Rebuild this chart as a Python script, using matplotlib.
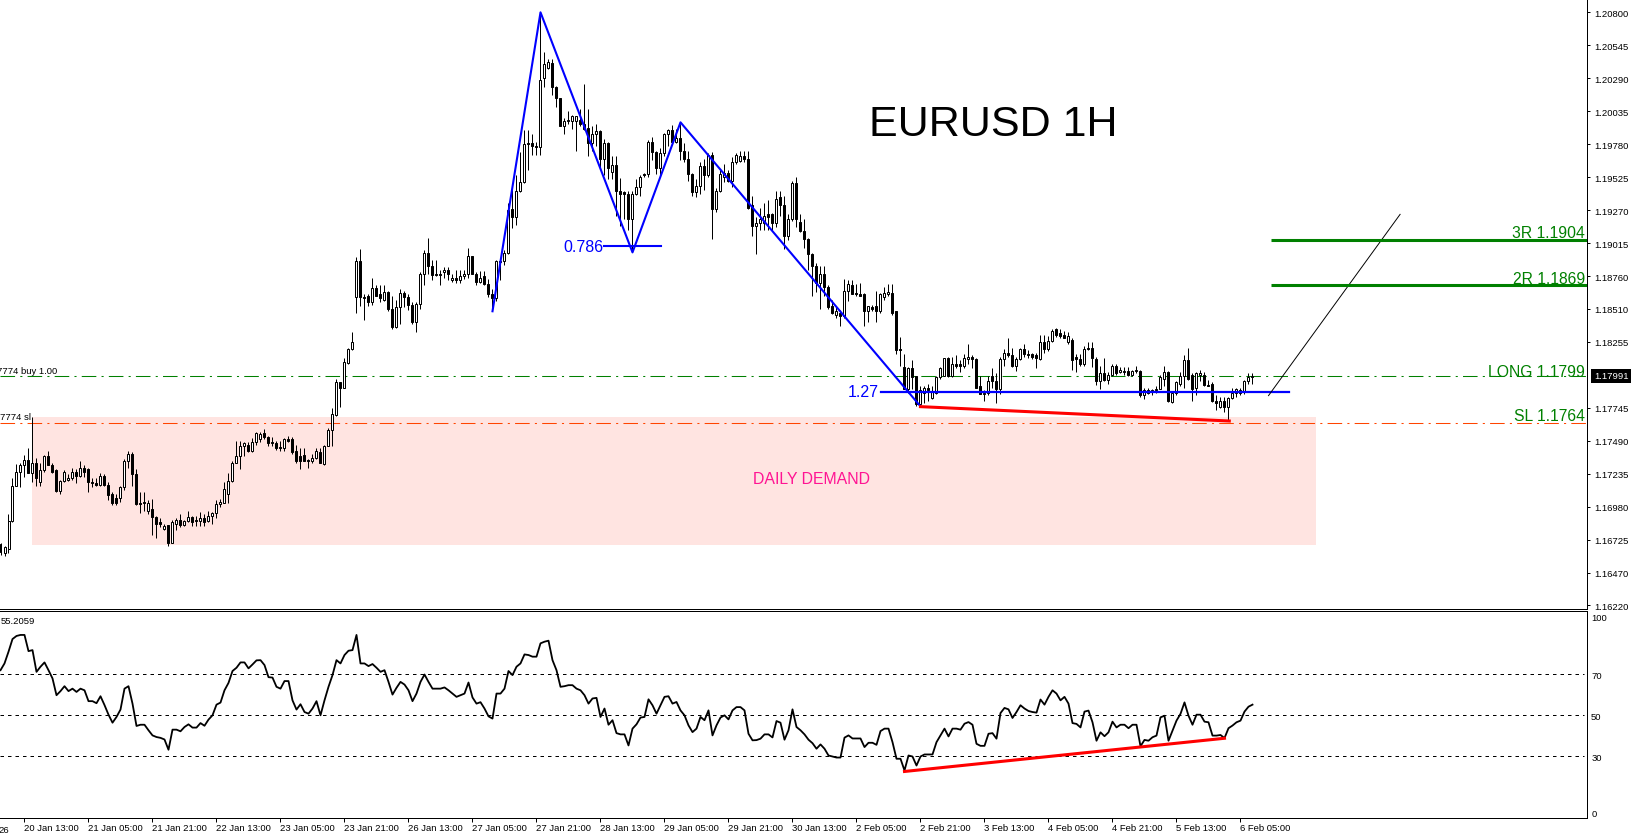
import numpy as np
import matplotlib
matplotlib.use('Agg')
import matplotlib.pyplot as plt
from matplotlib.patches import Rectangle

# Hourly candles, bar 0 is 20 Jan 13:00, first bars on screen start at -6
opens = [1.1669,1.1662,1.1665,1.1687,1.1714,1.1725,
    1.1730,1.1734,1.1724,1.1732,1.1717,1.1726,1.1737,1.1730,1.1726,1.1710,1.1718,1.1719,1.1720,1.1725,1.1722,1.1728,
    1.1727,1.1717,1.1716,1.1715,1.1722,1.1715,1.1708,1.1705,1.1705,1.1713,1.1733,1.1739,1.1723,1.1701,1.1702,1.1695,
    1.1696,1.1690,1.1686,1.1681,1.1684,1.1670,1.1685,1.1688,1.1684,1.1687,1.1690,1.1688,1.1687,1.1689,1.1687,1.1691,
    1.1693,1.1700,1.1701,1.1708,1.1718,1.1732,1.1737,1.1745,1.1746,1.1741,1.1748,1.1750,1.1755,1.1752,1.1748,1.1747,
    1.1744,1.1743,1.1750,1.1750,1.1741,1.1737,1.1738,1.1734,1.1733,1.1736,1.1740,1.1731,1.1745,1.1757,1.1769,1.1794,
    1.1790,1.1809,1.1820,1.1860,1.1888,1.1860,1.1861,1.1856,1.1867,1.1862,1.1858,1.1864,1.1851,1.1837,1.1852,1.1863,
    1.1860,1.1854,1.1841,1.1855,1.1878,1.1894,1.1884,1.1878,1.1878,1.1879,1.1881,1.1873,1.1875,1.1873,1.1876,1.1878,
    1.1892,1.1878,1.1872,1.1876,1.1870,1.1862,1.1859,1.1888,1.1888,1.1894,1.1928,1.1922,1.1942,1.1949,1.1979,1.1979,
    1.1977,1.1976,1.2029,1.2037,1.2041,1.2022,1.2014,1.1992,1.1996,1.1996,1.1996,1.1997,1.1994,1.1991,1.1979,1.1986,
    1.1988,1.1967,1.1979,1.1957,1.1962,1.1942,1.1941,1.1940,1.1920,1.1940,1.1945,1.1955,1.1955,1.1980,1.1972,1.1960,
    1.1971,1.1986,1.1989,1.1980,1.1983,1.1973,1.1967,1.1955,1.1941,1.1946,1.1961,1.1954,1.1970,1.1928,1.1942,1.1953,
    1.1956,1.1950,1.1964,1.1965,1.1969,1.1967,1.1931,1.1915,1.1917,1.1917,1.1924,1.1924,1.1917,1.1937,1.1931,1.1907,
    1.1920,1.1948,1.1918,1.1911,1.1905,1.1893,1.1884,1.1871,1.1878,1.1868,1.1853,1.1846,1.1848,1.1845,1.1865,1.1869,
    1.1863,1.1862,1.1862,1.1849,1.1852,1.1853,1.1849,1.1860,1.1862,1.1863,1.1849,1.1820,1.1806,1.1789,1.1805,1.1799,
    1.1777,1.1786,1.1790,1.1782,1.1786,1.1798,1.1799,1.1813,1.1799,1.1808,1.1808,1.1807,1.1812,1.1814,1.1812,1.1791,
    1.1785,1.1786,1.1799,1.1795,1.1789,1.1812,1.1817,1.1815,1.1807,1.1812,1.1820,1.1816,1.1816,1.1815,1.1812,1.1825,
    1.1820,1.1826,1.1835,1.1832,1.1831,1.1825,1.1827,1.1814,1.1812,1.1808,1.1821,1.1821,1.1812,1.1795,1.1801,1.1796,
    1.1800,1.1807,1.1802,1.1802,1.1803,1.1800,1.1803,1.1803,1.1784,1.1788,1.1787,1.1788,1.1789,1.1797,1.1802,1.1779,
    1.1786,1.1793,1.1799,1.1811,1.1800,1.1790,1.1800,1.1800,1.1792,1.1793,1.1780,1.1775,1.1780,1.1775,1.1782,1.1786,1.1786,1.1787,1.1795,1.1798]

highs = [1.1670,1.1668,1.1692,1.1720,1.1731,1.1732,
    1.1738,1.1743,1.1767,1.1736,1.1732,1.1738,1.1741,1.1732,1.1727,1.1719,1.1726,1.1723,1.1728,1.1727,1.1733,1.1730,
    1.1728,1.1720,1.1720,1.1724,1.1723,1.1717,1.1709,1.1708,1.1714,1.1735,1.1741,1.1740,1.1727,1.1709,1.1709,1.1703,
    1.1704,1.1691,1.1689,1.1685,1.1684,1.1688,1.1689,1.1692,1.1688,1.1695,1.1691,1.1691,1.1694,1.1692,1.1695,1.1694,
    1.1703,1.1704,1.1717,1.1724,1.1733,1.1749,1.1749,1.1748,1.1748,1.1751,1.1756,1.1756,1.1758,1.1753,1.1752,1.1749,
    1.1749,1.1751,1.1753,1.1752,1.1746,1.1743,1.1743,1.1735,1.1739,1.1743,1.1743,1.1746,1.1759,1.1774,1.1797,1.1794,
    1.1813,1.1821,1.1833,1.1891,1.1897,1.1862,1.1862,1.1875,1.1869,1.1869,1.1869,1.1865,1.1861,1.1858,1.1866,1.1865,
    1.1862,1.1856,1.1856,1.1879,1.1896,1.1906,1.1889,1.1889,1.1881,1.1883,1.1883,1.1878,1.1881,1.1881,1.1881,1.1898,
    1.1892,1.1879,1.1880,1.1880,1.1874,1.1866,1.1889,1.1889,1.1896,1.1933,1.1943,1.1954,1.1972,1.1989,1.1989,1.1986,
    1.1980,1.2080,1.2049,1.2044,1.2044,1.2023,1.2014,1.1998,1.2004,1.2001,1.2000,1.2005,1.2025,1.2005,1.1992,1.1994,
    1.1989,1.1982,1.1980,1.1969,1.1969,1.1952,1.1942,1.1942,1.1942,1.1951,1.1954,1.1956,1.1981,1.1984,1.1973,1.1975,
    1.1987,1.1990,1.1993,1.1990,1.1994,1.1979,1.1973,1.1956,1.1951,1.1964,1.1967,1.1971,1.1972,1.1944,1.1958,1.1963,
    1.1958,1.1968,1.1971,1.1973,1.1973,1.1973,1.1938,1.1922,1.1929,1.1933,1.1935,1.1925,1.1942,1.1942,1.1938,1.1924,
    1.1950,1.1953,1.1924,1.1920,1.1906,1.1894,1.1886,1.1884,1.1884,1.1869,1.1858,1.1852,1.1850,1.1874,1.1873,1.1873,
    1.1870,1.1871,1.1863,1.1853,1.1854,1.1865,1.1863,1.1868,1.1870,1.1870,1.1849,1.1829,1.1816,1.1806,1.1811,1.1799,
    1.1791,1.1791,1.1793,1.1791,1.1799,1.1806,1.1813,1.1814,1.1814,1.1815,1.1811,1.1816,1.1824,1.1815,1.1813,1.1799,
    1.1788,1.1799,1.1805,1.1801,1.1814,1.1820,1.1828,1.1821,1.1814,1.1821,1.1824,1.1819,1.1817,1.1817,1.1831,1.1831,
    1.1830,1.1835,1.1836,1.1835,1.1834,1.1833,1.1828,1.1816,1.1816,1.1822,1.1825,1.1825,1.1814,1.1807,1.1813,1.1802,
    1.1808,1.1808,1.1806,1.1806,1.1806,1.1804,1.1807,1.1804,1.1790,1.1790,1.1789,1.1791,1.1800,1.1807,1.1803,1.1787,
    1.1795,1.1802,1.1815,1.1821,1.1801,1.1802,1.1804,1.1802,1.1796,1.1794,1.1784,1.1783,1.1783,1.1783,1.1790,1.1790,1.1790,1.1796,1.1801,1.1801]

lows = [1.1661,1.1660,1.1662,1.1686,1.1714,1.1713,
    1.1721,1.1724,1.1717,1.1714,1.1714,1.1725,1.1730,1.1724,1.1709,1.1708,1.1717,1.1718,1.1719,1.1716,1.1721,1.1721,
    1.1709,1.1713,1.1714,1.1714,1.1714,1.1703,1.1699,1.1699,1.1702,1.1711,1.1728,1.1714,1.1699,1.1693,1.1695,1.1692,
    1.1676,1.1674,1.1682,1.1680,1.1668,1.1670,1.1680,1.1682,1.1683,1.1686,1.1683,1.1683,1.1683,1.1683,1.1686,1.1685,
    1.1689,1.1698,1.1701,1.1701,1.1717,1.1732,1.1727,1.1737,1.1740,1.1740,1.1746,1.1748,1.1750,1.1745,1.1745,1.1742,
    1.1741,1.1741,1.1748,1.1739,1.1732,1.1727,1.1733,1.1728,1.1732,1.1735,1.1732,1.1730,1.1745,1.1745,1.1768,1.1775,
    1.1790,1.1808,1.1819,1.1848,1.1853,1.1842,1.1853,1.1854,1.1861,1.1856,1.1857,1.1849,1.1835,1.1836,1.1839,1.1852,
    1.1850,1.1839,1.1833,1.1851,1.1869,1.1878,1.1873,1.1876,1.1869,1.1875,1.1873,1.1872,1.1871,1.1871,1.1874,1.1875,
    1.1878,1.1869,1.1871,1.1869,1.1860,1.1849,1.1857,1.1873,1.1885,1.1893,1.1913,1.1916,1.1941,1.1948,1.1958,1.1970,
    1.1970,1.1970,1.2022,1.2036,1.2016,1.2007,1.1992,1.1986,1.1994,1.1990,1.1973,1.1992,1.1989,1.1969,1.1973,1.1977,
    1.1960,1.1954,1.1951,1.1951,1.1923,1.1915,1.1920,1.1912,1.1895,1.1939,1.1938,1.1953,1.1953,1.1966,1.1955,1.1954,
    1.1969,1.1977,1.1979,1.1979,1.1966,1.1964,1.1950,1.1938,1.1937,1.1940,1.1943,1.1953,1.1905,1.1926,1.1941,1.1949,
    1.1949,1.1945,1.1963,1.1964,1.1964,1.1928,1.1907,1.1893,1.1912,1.1912,1.1912,1.1912,1.1914,1.1923,1.1897,1.1904,
    1.1919,1.1914,1.1910,1.1898,1.1881,1.1861,1.1864,1.1851,1.1861,1.1851,1.1847,1.1844,1.1838,1.1844,1.1857,1.1862,
    1.1861,1.1861,1.1838,1.1841,1.1849,1.1841,1.1848,1.1858,1.1861,1.1846,1.1816,1.1807,1.1789,1.1786,1.1789,1.1776,
    1.1775,1.1778,1.1780,1.1781,1.1785,1.1797,1.1799,1.1798,1.1798,1.1805,1.1802,1.1805,1.1808,1.1805,1.1790,1.1785,
    1.1780,1.1784,1.1790,1.1778,1.1785,1.1807,1.1814,1.1806,1.1803,1.1811,1.1814,1.1813,1.1812,1.1805,1.1811,1.1817,
    1.1818,1.1825,1.1829,1.1828,1.1828,1.1824,1.1804,1.1802,1.1807,1.1807,1.1819,1.1806,1.1792,1.1789,1.1795,1.1793,
    1.1799,1.1800,1.1801,1.1800,1.1799,1.1799,1.1801,1.1783,1.1781,1.1785,1.1784,1.1786,1.1789,1.1791,1.1779,1.1778,
    1.1784,1.1791,1.1790,1.1796,1.1780,1.1784,1.1795,1.1791,1.1791,1.1779,1.1773,1.1774,1.1771,1.1764,1.1781,1.1783,1.1784,1.1785,1.1793,1.1793]

closes = [1.1663,1.1667,1.1687,1.1714,1.1725,1.1730,
    1.1734,1.1724,1.1732,1.1720,1.1726,1.1737,1.1730,1.1725,1.1710,1.1718,1.1725,1.1720,1.1725,1.1722,1.1728,1.1725,
    1.1717,1.1716,1.1715,1.1722,1.1715,1.1707,1.1701,1.1701,1.1713,1.1733,1.1739,1.1723,1.1700,1.1700,1.1701,1.1701,
    1.1690,1.1685,1.1685,1.1683,1.1670,1.1686,1.1688,1.1684,1.1687,1.1690,1.1686,1.1687,1.1689,1.1686,1.1691,1.1693,
    1.1700,1.1702,1.1712,1.1718,1.1732,1.1737,1.1745,1.1747,1.1741,1.1748,1.1755,1.1754,1.1752,1.1747,1.1747,1.1743,
    1.1743,1.1750,1.1749,1.1740,1.1733,1.1733,1.1733,1.1733,1.1736,1.1741,1.1732,1.1745,1.1757,1.1770,1.1794,1.1790,
    1.1810,1.1820,1.1825,1.1888,1.1860,1.1859,1.1856,1.1867,1.1861,1.1859,1.1864,1.1851,1.1837,1.1852,1.1863,1.1860,
    1.1854,1.1841,1.1855,1.1878,1.1894,1.1884,1.1877,1.1877,1.1877,1.1881,1.1878,1.1875,1.1873,1.1876,1.1878,1.1892,
    1.1878,1.1872,1.1875,1.1870,1.1862,1.1859,1.1888,1.1887,1.1894,1.1927,1.1922,1.1942,1.1949,1.1978,1.1978,1.1977,
    1.1976,1.2028,1.2040,1.2042,1.2022,1.2014,1.1992,1.1996,1.1997,1.2000,1.2000,1.1994,1.1990,1.1979,1.1986,1.1988,
    1.1967,1.1979,1.1960,1.1962,1.1942,1.1940,1.1940,1.1920,1.1940,1.1945,1.1953,1.1954,1.1980,1.1972,1.1960,1.1971,
    1.1986,1.1989,1.1980,1.1983,1.1973,1.1967,1.1955,1.1941,1.1946,1.1961,1.1954,1.1970,1.1928,1.1942,1.1955,1.1956,
    1.1950,1.1964,1.1970,1.1969,1.1967,1.1929,1.1915,1.1917,1.1920,1.1923,1.1922,1.1917,1.1936,1.1931,1.1907,1.1920,
    1.1948,1.1920,1.1911,1.1905,1.1893,1.1884,1.1871,1.1878,1.1868,1.1852,1.1848,1.1849,1.1845,1.1865,1.1870,1.1862,
    1.1862,1.1861,1.1849,1.1853,1.1851,1.1849,1.1862,1.1863,1.1864,1.1848,1.1819,1.1819,1.1789,1.1805,1.1798,1.1777,
    1.1788,1.1790,1.1788,1.1787,1.1798,1.1805,1.1813,1.1799,1.1808,1.1807,1.1807,1.1813,1.1814,1.1812,1.1790,1.1785,
    1.1786,1.1795,1.1795,1.1789,1.1812,1.1817,1.1815,1.1807,1.1812,1.1820,1.1816,1.1815,1.1814,1.1813,1.1825,1.1820,
    1.1826,1.1834,1.1831,1.1830,1.1828,1.1830,1.1811,1.1812,1.1808,1.1820,1.1820,1.1813,1.1795,1.1801,1.1796,1.1800,
    1.1807,1.1801,1.1804,1.1803,1.1800,1.1803,1.1804,1.1784,1.1788,1.1786,1.1788,1.1789,1.1798,1.1802,1.1780,1.1786,
    1.1794,1.1799,1.1811,1.1797,1.1789,1.1801,1.1801,1.1792,1.1791,1.1780,1.1778,1.1780,1.1775,1.1782,1.1786,1.1789,1.1788,1.1795,1.1798,1.1799]

# RSI, same bars as the candles
rsi = [72,75.3,81,87.2,88.7,89.2,
    89.2,81.3,81.8,71.2,73.7,75.8,72,68,59.8,61.8,64.2,61.8,63,61.4,63,62.2,
    56.9,56.9,55.9,59.3,55,50.3,46.4,49.2,52.8,63,64.2,55.7,44.8,45.4,45.4,42.7,
    40.2,39.4,39,38.2,33.2,43,43,42.2,44.3,45.6,44,44,46.2,44.9,47.9,50,
    55.2,56.2,62.2,65.8,71.6,73.2,75.8,75.8,72.9,74.8,76.8,76.9,74.5,68.6,68.4,63.9,
    63,66.7,66.7,57.3,52.8,55.4,51.6,50.8,53.3,56.9,50,57.3,63.9,69.6,76.9,75.3,
    79.4,81.5,81.8,89.2,75.3,75.3,74,75,73.2,71.2,72,66.3,60.1,63.4,66.3,65,
    62.2,56.9,60.6,66.3,69.9,66.3,63,63,63,63.6,62.2,60.6,59,59.8,60.6,66,
    58.7,55.7,56.4,53.3,49.5,48.4,60.6,60.6,63,71.6,69.6,73.7,75.3,79.7,79.4,78.6,
    78.6,85.1,85.9,86.4,76.9,72,63.9,64.2,64.7,64.7,63,62.2,59.8,55.7,58.2,58.5,
    49.2,53.3,45.4,47.6,41.3,40.7,40.7,35.3,43.5,45.6,48.9,49.2,57.8,54.9,50.8,54.9,
    59,59.3,55.7,56.5,52.4,50,45.1,41.8,43.5,49.2,47.6,52.4,40.2,45.1,48.9,50,
    48,52.4,54,54,52.4,41,37.8,37.9,38.6,40.7,40.7,39.2,47.2,46.4,38.1,42.7,
    52.9,44.3,42.7,40.7,38.1,36.4,33.7,35.8,33.7,30.4,29.9,29.4,29.4,39.1,40.2,38.7,
    38.7,38.7,34.5,36.6,36.6,35.6,42.3,43.5,43.5,36.9,28.8,28.8,23.1,30.4,29.9,25.5,
    29.9,30.9,30.9,30.9,36.9,40.2,43.5,39.7,43.5,43.5,43,45.9,46.7,45.4,36.1,35.1,
    35.1,41,41.3,38.6,51.1,53.6,52.9,48.7,51.6,54.9,53.3,52.1,51.6,51.3,57.7,55.2,
    59,62.2,60.6,57.3,59,55.7,46.2,45.8,44.1,51.8,52.3,46.6,37.6,41.7,39.8,41.7,
    46.9,44.1,45.4,45.4,43.7,45.4,45.4,34.9,38,37.6,39.3,40.1,49,49.8,37.6,42.5,
    47.4,50.7,56.3,49.8,45.4,50.3,50.3,46.9,46.6,40.1,40.1,40.4,38.9,43.7,45,46.6,47.4,51.8,54.2,55.2]

time_bars = [0, 16, 32, 48, 64, 80, 96, 112, 128, 144, 160, 176, 192, 208, 224, 240, 256, 272, 288, 304]
time_labels = ['20 Jan 13:00', '21 Jan 05:00', '21 Jan 21:00', '22 Jan 13:00', '23 Jan 05:00',
               '23 Jan 21:00', '26 Jan 13:00', '27 Jan 05:00', '27 Jan 21:00', '28 Jan 13:00',
               '29 Jan 05:00', '29 Jan 21:00', '30 Jan 13:00', '2 Feb 05:00', '2 Feb 21:00',
               '3 Feb 13:00', '4 Feb 05:00', '4 Feb 21:00', '5 Feb 13:00', '6 Feb 05:00']
price_ticks = [1.20800, 1.20545, 1.20290, 1.20035, 1.19780, 1.19525, 1.19270, 1.19015, 1.18760,
               1.18510, 1.18255, 1.17745, 1.17490, 1.17235, 1.16980, 1.16725, 1.16470, 1.16220]
rsi_ticks = [100, 70, 50, 30, 0]
rsi_levels = [70, 50, 30]

# drawn objects on the chart
pattern_bars = [117, 129, 152, 164, 224]
pattern_prices = [1.1849, 1.2080, 1.18945, 1.1995, 1.17755]
fib_786_bars = [144.9, 159.2]
fib_786_price = 1.18994
fib_127_bars = [214.1, 316.2]
fib_127_price = 1.17868
div_bars = [224, 301.2]
div_prices = [1.17753, 1.17642]
rsi_div_bars = [220, 300]
rsi_div_values = [22.6, 38.8]
forecast_bars = [311, 343.9]
forecast_prices = [1.17838, 1.19239]
zone_bars = [2, 322.9]
zone_prices = [1.16686, 1.1767]
target_start = 311.7
target_3r = 1.1904
target_2r = 1.1869
long_price = 1.1799
sl_price = 1.1763
last_price = 1.17991

GREEN = '#008000'
BLUE = '#0000ff'
RED = '#ff0000'
W, H = 1633, 837
X0, X1 = -6.125, 390.625

plt.rcParams['font.family'] = ['Liberation Sans', 'DejaVu Sans']

fig = plt.figure(figsize=(W / 100, H / 100), dpi=100, facecolor='white')
ax = fig.add_axes([0, 1 - 610.3 / H, 1587 / W, 610.3 / H])
ax2 = fig.add_axes([0, 1 - 819.3 / H, 1587 / W, 207 / H])

bars = np.arange(-6, -6 + len(opens))
o, h, l, c = map(np.array, (opens, highs, lows, closes))

ax.set_xlim(X0, X1)
ax.set_ylim(1.16187, 1.20903)

# demand zone under the candles
ax.add_patch(Rectangle((zone_bars[0], zone_prices[0]), zone_bars[1] - zone_bars[0],
                       zone_prices[1] - zone_prices[0], facecolor='#ffe4e1', edgecolor='none', zorder=1))

# order lines
ax.axhline(long_price, color=GREEN, lw=0.75, dashes=(14, 5, 2, 5), zorder=2)
ax.axhline(sl_price, color='#ff4500', lw=0.75, dashes=(14, 5, 2, 5), zorder=2)

# candles
ax.vlines(bars, l, h, color='black', lw=0.72, zorder=3)
up = c >= o
ax.bar(bars[up], (c - o)[up], bottom=o[up], width=0.5, facecolor='white', edgecolor='black', lw=0.72, zorder=4)
ax.bar(bars[~up], (o - c)[~up], bottom=c[~up], width=0.5, facecolor='black', edgecolor='black', lw=0.72, zorder=4)

# pattern and levels
ax.plot(pattern_bars, pattern_prices, color=BLUE, lw=1.5, zorder=5)
ax.plot(fib_786_bars, [fib_786_price] * 2, color=BLUE, lw=1.5, zorder=5)
ax.plot(fib_127_bars, [fib_127_price] * 2, color=BLUE, lw=1.6, zorder=5)
ax.plot(div_bars, div_prices, color=RED, lw=2.2, zorder=5)
ax.plot(forecast_bars, forecast_prices, color='black', lw=0.7, zorder=5)
ax.plot([target_start, X1], [target_3r] * 2, color=GREEN, lw=2.2, zorder=5, solid_capstyle='butt')
ax.plot([target_start, X1], [target_2r] * 2, color=GREEN, lw=2.2, zorder=5, solid_capstyle='butt')

ax.text(211.2, 1.19937, 'EURUSD 1H', fontsize=31, color='black', va='center', ha='left', zorder=6)
ax.text(196.8, 1.17199, 'DAILY DEMAND', fontsize=11.4, color='#ff1493', va='center', ha='center', zorder=6)
ax.text(144.7, 1.18994, '0.786', fontsize=11.5, color=BLUE, va='center', ha='right', zorder=6)
ax.text(213.6, 1.17872, '1.27', fontsize=11.5, color=BLUE, va='center', ha='right', zorder=6)
ax.text(390.2, 1.19100, '3R 1.1904', fontsize=11.3, color=GREEN, va='center', ha='right', zorder=6)
ax.text(390.2, 1.18744, '2R 1.1869', fontsize=11.3, color=GREEN, va='center', ha='right', zorder=6)
ax.text(390.2, 1.18028, 'LONG 1.1799', fontsize=11.3, color=GREEN, va='center', ha='right', zorder=6)
ax.text(390.2, 1.17688, 'SL 1.1764', fontsize=11.3, color=GREEN, va='center', ha='right', zorder=6)
ax.text(8.2, 1.1803, '7774 buy 1.00', fontsize=6.8, color='black', va='center', ha='right', zorder=6)
ax.text(X0 + 0.1, 1.1768, '7774 sl', fontsize=6.8, color='black', va='center', ha='left', zorder=6)

# price axis on the right
ax.set_xticks([])
ax.yaxis.tick_right()
ax.set_yticks(price_ticks)
ax.set_yticklabels(['%.5f' % p for p in price_ticks], fontsize=6.8)
ax.tick_params(axis='y', length=2.2, width=0.72, pad=3)
for s in ['top', 'left']:
    ax.spines[s].set_visible(False)
for s in ['right', 'bottom']:
    ax.spines[s].set_linewidth(0.72)

ax.text(1594 / 1587, last_price, '%.5f' % last_price, transform=ax.get_yaxis_transform(), fontsize=6.8,
        color='white', va='center', ha='left', clip_on=False, zorder=7,
        bbox=dict(boxstyle='square,pad=0.3', facecolor='black', edgecolor='black', lw=0))

# RSI panel
ax2.set_xlim(X0, X1)
ax2.set_ylim(-0.24, 100.73)
for lv in rsi_levels:
    ax2.plot([X0, 389.9], [lv, lv], color='black', lw=0.72, dashes=(3.5, 4), zorder=1)
ax2.plot(bars, rsi, color='black', lw=1.3, zorder=3)
ax2.plot(rsi_div_bars, rsi_div_values, color=RED, lw=2.2, zorder=4)
ax2.text(X0 + 0.1, 96.1, '55.2059', fontsize=6.8, color='black', va='center', ha='left')

ax2.yaxis.tick_right()
ax2.set_yticks(rsi_ticks)
ax2.set_yticklabels([str(v) for v in rsi_ticks], fontsize=6.8)
ax2.tick_params(axis='y', length=0, pad=3)
ylabs = ax2.get_yticklabels()
ylabs[0].set_va('top')
ylabs[-1].set_va('bottom')

ax2.set_xticks(time_bars)
ax2.set_xticklabels(time_labels, fontsize=6.8, ha='left')
ax2.tick_params(axis='x', length=2.9, width=0.72, pad=0.6)
ax2.text(-3.9, -3.4, '26', fontsize=6.8, color='black', va='top', ha='right', clip_on=False)
ax2.spines['left'].set_visible(False)
for s in ['top', 'right', 'bottom']:
    ax2.spines[s].set_linewidth(0.72)

fig.savefig('out.png', dpi=100)
